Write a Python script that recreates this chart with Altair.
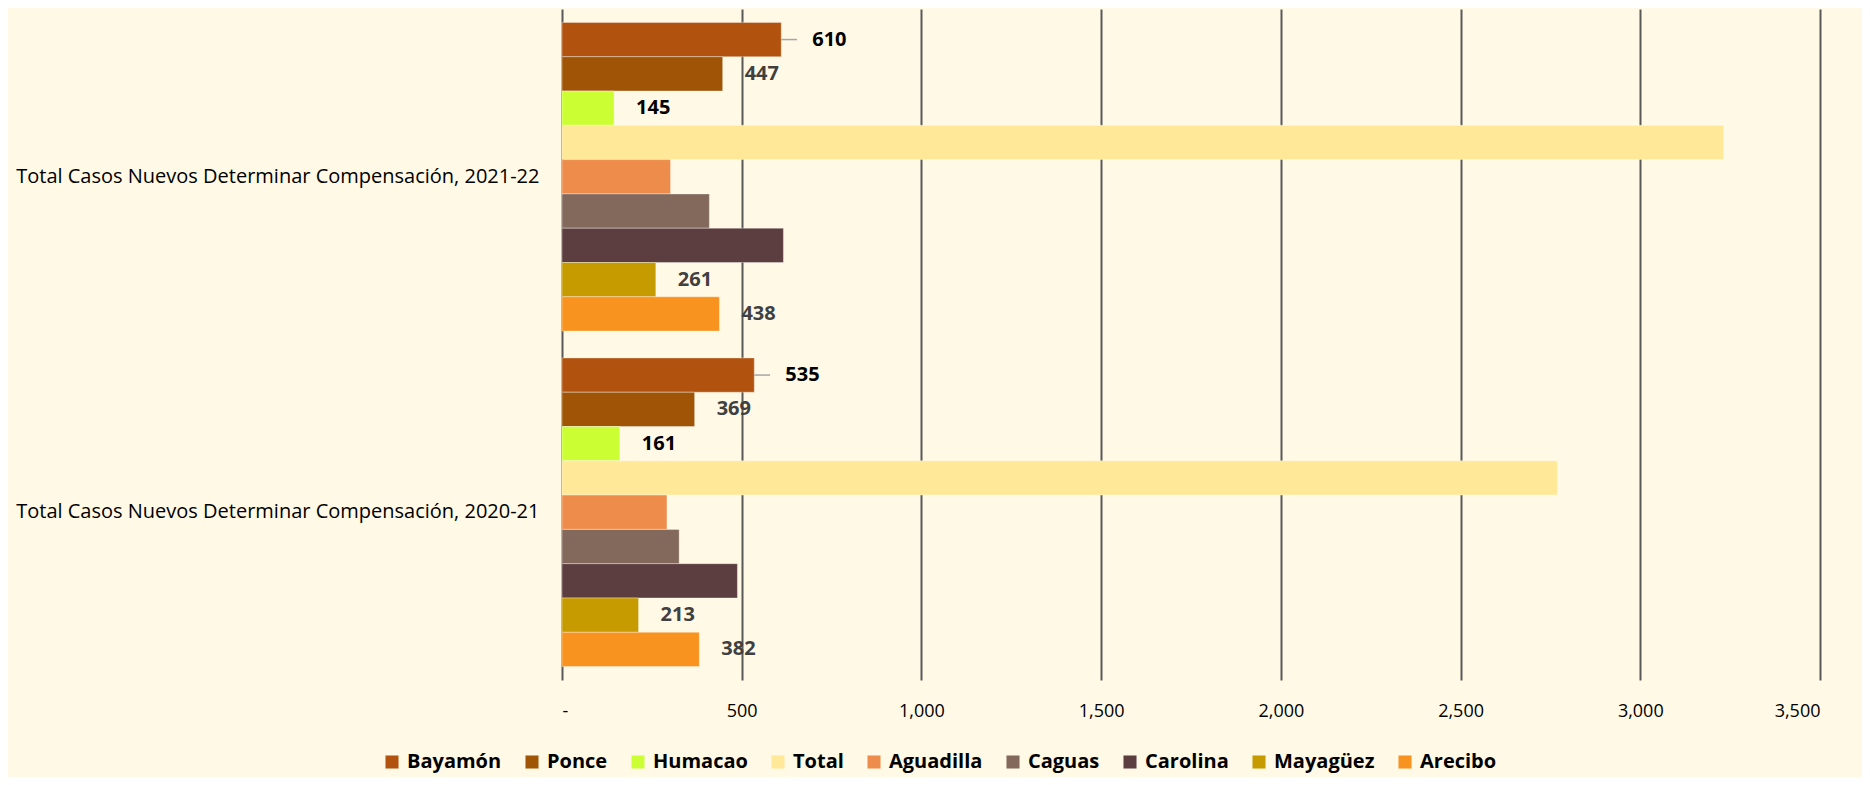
import altair as alt
import pandas as pd

categories = [
    "Total Casos Nuevos Determinar Compensación, 2021-22",
    "Total Casos Nuevos Determinar Compensación, 2020-21",
]
regions = ["Bayamón", "Ponce", "Humacao", "Total", "Aguadilla", "Caguas", "Carolina", "Mayagüez", "Arecibo"]
values_2021_22 = [610, 447, 145, 3232, 302, 410, 616, 261, 438]
values_2020_21 = [535, 369, 161, 2770, 292, 326, 488, 213, 382]
colors = ["#B1530F", "#A05506", "#CCFF33", "#FFE999", "#EE8D4B", "#83695C", "#5C3D40", "#C69B00", "#F7931E"]
labeled_black = ["Humacao"]
labeled_gray = ["Ponce", "Mayagüez", "Arecibo"]
leader_labeled = ["Bayamón"]

rows = []
for cat, vals in zip(categories, [values_2021_22, values_2020_21]):
    for r, v in zip(regions, vals):
        rows.append({"category": cat, "region": r, "value": v})
df = pd.DataFrame(rows)

FONT = "Open Sans"

base = alt.Chart(df).encode(
    y=alt.Y("category:N", sort=categories, title=None,
            scale=alt.Scale(paddingInner=0.08, paddingOuter=0.04),
            axis=alt.Axis(domain=False, ticks=False, labelFontSize=20, labelFont=FONT,
                          labelColor="#000000", labelPadding=23, labelLimit=600)),
    yOffset=alt.YOffset("region:N", sort=regions,
                        scale=alt.Scale(paddingInner=0, paddingOuter=0)),
)

bars = base.mark_bar(stroke="#ffffff", strokeWidth=1, strokeOpacity=0.35).encode(
    x=alt.X("value:Q", title=None,
            scale=alt.Scale(domain=[0, 3500], nice=False),
            axis=alt.Axis(values=list(range(0, 3501, 500)), domain=False, ticks=False,
                          grid=True, gridColor="#595959", gridWidth=2,
                          labelFontSize=18, labelFont=FONT, labelColor="#000000",
                          labelPadding=22,
                          labelExpr="datum.value == 0 ? '-' : format(datum.value, ',')")),
    color=alt.Color("region:N", sort=regions,
                    scale=alt.Scale(domain=regions, range=colors),
                    legend=alt.Legend(title=None, orient="none", direction="horizontal",
                                      columns=9, legendX=-180, legendY=743,
                                      symbolType="square", symbolSize=170,
                                      symbolStrokeWidth=0, labelFontSize=20,
                                      labelFont=FONT, labelFontWeight="bold",
                                      labelColor="#000000", columnPadding=20,
                                      labelOffset=5)),
)

leader = base.mark_rule(color="#A6A6A6", strokeWidth=1.5).transform_filter(
    alt.FieldOneOfPredicate(field="region", oneOf=leader_labeled)
).transform_calculate(
    lead_end="datum.value + 44"
).encode(x="value:Q", x2="lead_end:Q")

text_lead = base.mark_text(align="left", baseline="middle", dx=31, fontSize=20,
                           fontWeight="bold", font=FONT, color="#000000").transform_filter(
    alt.FieldOneOfPredicate(field="region", oneOf=leader_labeled)
).encode(x="value:Q", text=alt.Text("value:Q", format=","))

text_black = base.mark_text(align="left", baseline="middle", dx=22, fontSize=20,
                            fontWeight="bold", font=FONT, color="#000000").transform_filter(
    alt.FieldOneOfPredicate(field="region", oneOf=labeled_black)
).encode(x="value:Q", text=alt.Text("value:Q", format=","))

text_gray = base.mark_text(align="left", baseline="middle", dx=22, fontSize=20,
                           fontWeight="bold", font=FONT, color="#404040").transform_filter(
    alt.FieldOneOfPredicate(field="region", oneOf=labeled_gray)
).encode(x="value:Q", text=alt.Text("value:Q", format=","))

chart = alt.layer(bars, leader, text_lead, text_black, text_gray).properties(
    width=1258, height=671,
    autosize=alt.AutoSizeParams(type="none"),
    padding={"left": 554, "top": 1, "right": 42, "bottom": 97},
    background="#FFF9E6",
).configure_view(stroke=None)

chart.save("out.html", embed_options={"renderer": "svg", "actions": False})
